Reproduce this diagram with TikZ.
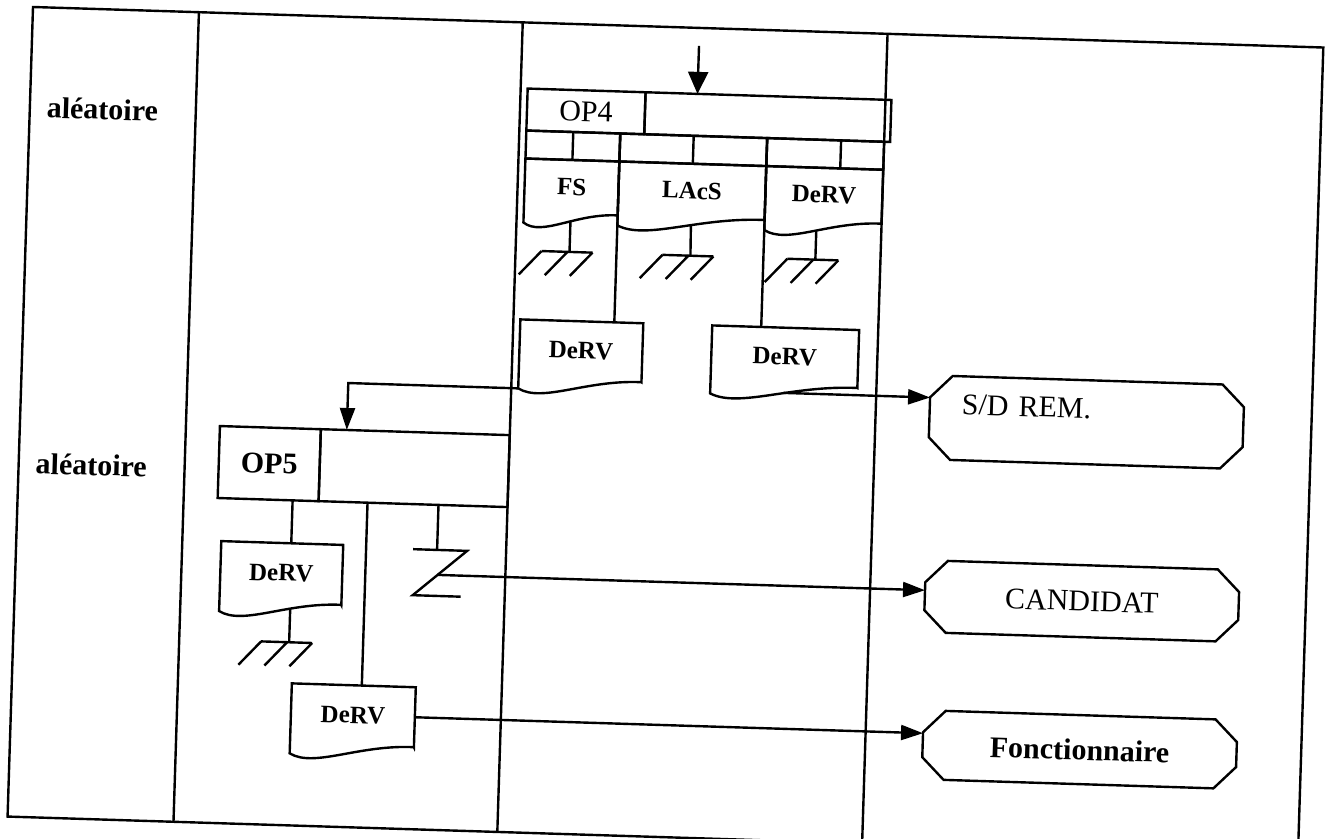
\documentclass[tikz,border=0pt]{standalone}
\usepackage{fontspec}
\setmainfont{Liberation Serif}
\usetikzlibrary{calc,arrows.meta}

% outline of a document: flat top, wavy bottom
\newcommand\docout[1]{%
  \draw[ln] (#1.south east) -- (#1.north east) -- (#1.north west) -- ([yshift=-5pt]#1.south west)
    .. controls ($([yshift=-12pt]#1.south west)!0.2!([yshift=-12pt]#1.south east)$)
    and ($([yshift=0.5pt]#1.south west)!0.55!([yshift=0.5pt]#1.south east)$) .. cycle;}
% outline of a receiver: box with cut corners
\newcommand\termout[1]{%
  \draw[ln] ([xshift=11pt]#1.north west) -- ([xshift=-11pt]#1.north east) -- ([yshift=-11pt]#1.north east)
    -- ([yshift=11pt]#1.south east) -- ([xshift=-11pt]#1.south east) -- ([xshift=11pt]#1.south west)
    -- ([yshift=11pt]#1.south west) -- ([yshift=-11pt]#1.north west) -- cycle;}

\begin{document}
\begin{tikzpicture}[x=0.5pt,y=-0.5pt,
  ln/.style={line width=1.2pt},
  cell/.style={draw,line width=1.2pt,inner sep=0pt,outer sep=0pt},
  big/.style={font=\fontsize{15}{17}\selectfont},
  lbl/.style={font=\bfseries\fontsize{15}{17}\selectfont},
  docbox/.style={inner sep=0pt,outer sep=0pt,font=\bfseries\fontsize{12.5}{14}\selectfont},
  term/.style={inner sep=0pt,outer sep=0pt,minimum width=157pt,font=\fontsize{15}{17}\selectfont},
  flow/.style={ln,-{Triangle[length=11pt,width=7.5pt]}},
  earth/.pic={\draw[ln] (-28,0) -- (23,0);
    \foreach \a in {-28,-2,23} \draw[ln] (\a,0) -- ++(-22,24);}]
\useasboundingbox (0,0) rectangle (1329,839);

\begin{scope}[shift={(33,7)},rotate=-1.8,transform shape]
  % frame and columns
  \draw[ln] (0,0) rectangle (1291,810);
  \foreach \u in {166,490,855} \draw[ln] (\u,0) -- (\u,810);

  \node[lbl,anchor=west] (ale1) at (10,100) {aléatoire};
  \node[lbl,anchor=west] (ale2) at (10,456) {aléatoire};

  % OP4 and its outputs
  \node[cell,big,minimum width=59pt,minimum height=21pt] (op4) at (556,87) {OP4\hspace{13pt}};
  \node[cell,minimum width=123pt,minimum height=21pt,anchor=west] (op4b) at (op4.east) {};
  \coordinate (op4in) at (667,18);
  \draw[ln,-{Triangle[length=11pt,width=10pt]}] (op4in) -- ([xshift=-35.5pt]op4b.north);

  \node[cell,minimum width=47pt,minimum height=14pt] (s1) at (544,122) {};
  \node[cell,minimum width=73.5pt,minimum height=14pt] (s2) at (664.5,122) {};
  \node[cell,minimum width=58.5pt,minimum height=14pt] (s3) at (796.5,122) {};
  \draw[ln] (s1.north) -- (s1.south) (s2.north) -- (s2.south)
    ([xshift=7.75pt]s3.north) -- ([xshift=7.75pt]s3.south);

  \node[docbox,minimum width=47pt,minimum height=27pt] (fs) at (544,163) {FS};
  \node[docbox,minimum width=73.5pt,minimum height=27pt] (lacs) at (664.5,163) {LAcS};
  \node[docbox,minimum width=58.5pt,minimum height=27pt] (derva) at (796.5,163) {DeRV};

  % archived
  \coordinate (g1) at (544,228);
  \coordinate (g2) at (665,228);
  \coordinate (g3) at (790,228);
  \draw[ln] ([yshift=-3.6pt]fs.south) -- (g1);
  \draw[ln] ([yshift=-3.6pt]lacs.south) -- (g2);
  \draw[ln] ([xshift=-3.25pt,yshift=-4.2pt]derva.south) -- (g3);
  \pic at (g1) {earth};
  \pic at (g2) {earth};
  \pic at (g3) {earth};

  \node[docbox,minimum width=61.5pt,minimum height=29.5pt] (dervb) at (558.5,326.5) {DeRV};
  \node[docbox,minimum width=73.5pt,minimum height=29pt] (dervc) at (762.5,326) {DeRV\hspace{17pt}};
  \draw[ln] (s1.north east) -- ([xshift=16.25pt]dervb.north);
  \draw[ln] (s2.north east) -- ([xshift=-12.25pt]dervc.north);

  % OP5 and its outputs
  \node[cell,lbl,minimum width=50.5pt,minimum height=36pt] (op5) at (250.5,449) {OP5};
  \node[cell,minimum width=94.5pt,minimum height=36pt,anchor=west] (op5b) at (op5.east) {};
  \draw[flow] ([yshift=-5pt]dervb.south west) -- ++(-170,0) -- ([xshift=13pt]op5b.north west);

  \node[docbox,minimum width=61pt,minimum height=30pt] (dervd) at (266,558) {DeRV\hspace{10pt}};
  \draw[ln] ([xshift=12.25pt]op5.south) -- ([xshift=4.5pt]dervd.north);
  \coordinate (g4) at (276,627);
  \draw[ln] ([xshift=5pt,yshift=-2.7pt]dervd.south) -- (g4);
  \pic at (g4) {earth};

  \node[docbox,minimum width=62pt,minimum height=30pt] (derve) at (342,698) {DeRV};
  \draw[ln] ([xshift=-22.75pt]op5b.south) -- ([xshift=4pt]derve.north);

  % sent out
  \coordinate (zt) at (421,530);
  \coordinate (zm) at (422,555);
  \draw[ln] ([xshift=12.75pt]op5b.south) -- (zt);
  \draw[ln] (397,530) -- (451,530) -- (398,576) -- (446,576);

  \foreach \d in {fs,lacs,derva,dervb,dervc,dervd,derve} \docout{\d};

  % receivers
  \node[term,minimum height=42pt,text width=125pt,align=left,text depth=14pt] (sdrem) at (1066,382) {S/D REM.};
  \node[term,minimum height=36pt] (cand) at (1067,561) {CANDIDAT};
  \node[term,minimum height=34.5pt,font=\bfseries\fontsize{15}{17}\selectfont] (fonct) at (1069.5,709.5) {Fonctionnaire};
  \foreach \t in {sdrem,cand,fonct} \termout{\t};

  \draw[flow] ([yshift=-3.6pt]dervc.south) -- ([yshift=9.9pt]sdrem.west);
  \draw[flow] (zm) -- ([yshift=3pt]cand.west);
  \draw[flow] (derve.east) -- ([yshift=5.75pt]fonct.west);
\end{scope}
\end{tikzpicture}
\end{document}
